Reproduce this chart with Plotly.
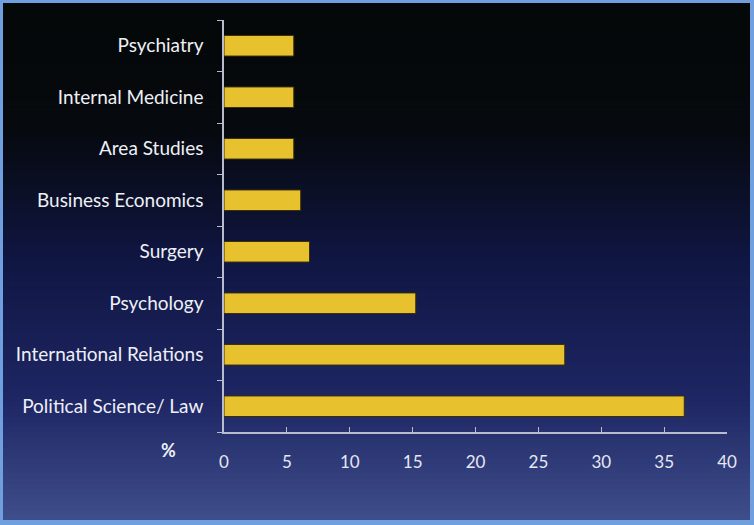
import plotly.graph_objects as go

categories = ["Political Science/ Law", "International Relations", "Psychology", "Surgery",
              "Business Economics", "Area Studies", "Internal Medicine", "Psychiatry"]
values = [36.6, 27.1, 15.25, 6.8, 6.1, 5.55, 5.55, 5.55]
x_ticks = [0, 5, 10, 15, 20, 25, 30, 35, 40]

W, H = 754, 525
pl, pr, pt, pb = 224, 27, 20, 93
pw, ph = W - pl - pr, H - pt - pb

def px(x):
    return (x - pl) / pw

def py(y):
    return 1 - (y - pt) / ph

fig = go.Figure()
fig.add_trace(go.Bar(
    x=values, y=categories, orientation="h",
    width=0.4,
    marker=dict(color="#e8c22e", line=dict(color="#3a2e08", width=1)),
))

def lerp(c1, c2, t):
    return tuple(int(round(a + (b - a) * t)) for a, b in zip(c1, c2))

# background gradient (styling), pixel stops from top
stops = [(0, (5, 8, 7)), (130, (6, 9, 14)), (260, (16, 22, 66)),
         (400, (30, 38, 100)), (525, (64, 80, 140))]
shapes = []
top, bottom, left, right = 3, 520, 3, 750
N = 100
for i in range(N):
    y0p = top + (bottom - top) * i / N
    y1p = top + (bottom - top) * (i + 1) / N + 0.8
    ym = (y0p + y1p) / 2
    for j in range(len(stops) - 1):
        if stops[j][0] <= ym <= stops[j + 1][0]:
            tt = (ym - stops[j][0]) / (stops[j + 1][0] - stops[j][0])
            c = lerp(stops[j][1], stops[j + 1][1], tt)
            break
    shapes.append(dict(type="rect", xref="paper", yref="paper", x0=px(left), x1=px(right),
                       y0=py(min(y1p, bottom)), y1=py(y0p), fillcolor="rgb(%d,%d,%d)" % c,
                       line=dict(width=0), layer="below"))

fig.update_layout(
    width=W, height=H,
    margin=dict(l=pl, r=pr, t=pt, b=pb),
    paper_bgcolor="#6f9fdf",
    plot_bgcolor="rgba(0,0,0,0)",
    showlegend=False,
    shapes=shapes,
    font=dict(family="Lato, Open Sans, sans-serif", color="#eef0f6"),
    xaxis=dict(range=[0, 40], tickvals=x_ticks, ticks="inside", ticklen=5,
               tickcolor="#b8bccc", showline=True, linecolor="#b8bccc", linewidth=1.5,
               showgrid=False, zeroline=False, tickfont=dict(size=17, color="#e6e8f2"),
               ticklabelstandoff=14),
    yaxis=dict(categoryorder="array", categoryarray=categories, tickson="boundaries",
               ticks="outside", ticklen=5, tickcolor="#b8bccc", showline=True,
               linecolor="#b8bccc", linewidth=1.5, showgrid=False,
               tickfont=dict(size=19, color="#eef0f6"), ticklabelstandoff=15),
    annotations=[dict(text="<b>%</b>", xref="paper", yref="paper", x=px(168), y=py(450),
                      showarrow=False, font=dict(size=18, color="#eef0f6"),
                      xanchor="center", yanchor="middle")],
)

fig.write_html("out.html", config={"displayModeBar": False},
               post_script="document.body.style.margin='0';")
